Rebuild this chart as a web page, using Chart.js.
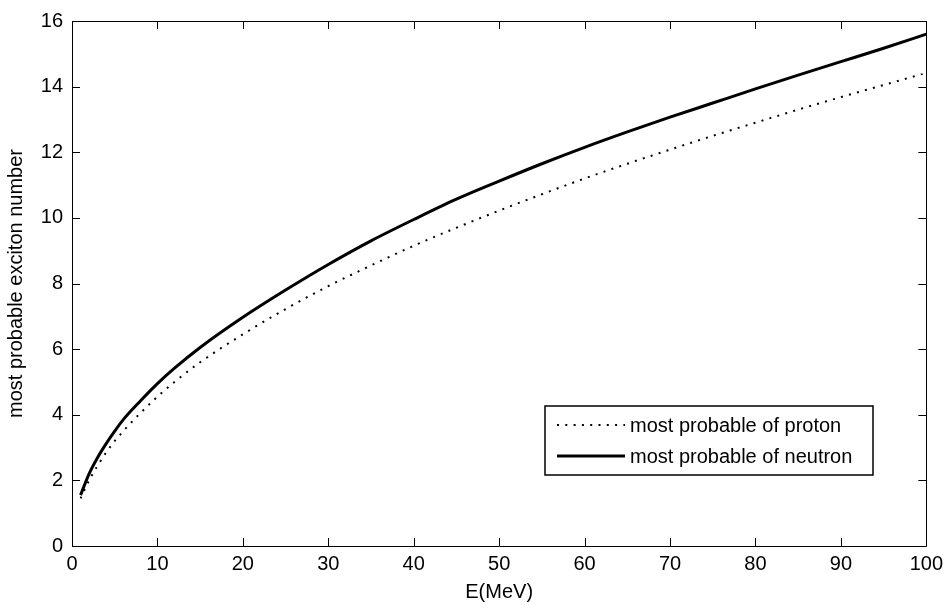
<!DOCTYPE html>
<html><head><meta charset="utf-8">
<script src="https://cdn.jsdelivr.net/npm/chart.js@4.4.0/dist/chart.umd.min.js"></script>
<style>html,body{margin:0;padding:0;background:#fff;}canvas{display:block;}</style>
</head><body>
<canvas id="c" width="949" height="605"></canvas>
<script>
// ---- data ----
const energies = [1,2,3,4,5,6,8,10,12,15,20,25,30,35,40,45,50,55,60,65,70,75,80,85,90,95,100];
const protonValues = [1.45,2.0,2.45,2.85,3.2,3.5,4.05,4.55,5.0,5.6,6.45,7.22,7.92,8.55,9.15,9.7,10.22,10.72,11.2,11.65,12.08,12.5,12.9,13.3,13.68,14.05,14.42];
const neutronValues = [1.55,2.2,2.7,3.12,3.5,3.85,4.42,4.95,5.42,6.05,6.97,7.8,8.58,9.3,9.95,10.57,11.12,11.65,12.15,12.62,13.07,13.5,13.93,14.35,14.76,15.17,15.6];
const xTickValues = [0,10,20,30,40,50,60,70,80,90,100];
const yTickValues = [0,2,4,6,8,10,12,14,16];
const seriesLabels = ['most probable of proton','most probable of neutron'];
const xTitle = 'E(MeV)';
const yTitle = 'most probable exciton number';

const FONT = "'Liberation Sans', Arial, sans-serif";

const framePlugin = {
  id: 'frame',
  afterDatasetsDraw(chart) {
    const ctx = chart.ctx, a = chart.chartArea;
    const xs = chart.scales.x, ys = chart.scales.y;
    const tl = 8;
    ctx.save();
    ctx.strokeStyle = '#000';
    ctx.lineWidth = 1;
    ctx.beginPath();
    ctx.rect(Math.round(a.left)+0.5, Math.round(a.top)+0.5, Math.round(a.right-a.left), Math.round(a.bottom-a.top));
    ctx.stroke();
    ctx.beginPath();
    xs.ticks.forEach(t => {
      const px = Math.round(xs.getPixelForValue(t.value)) + 0.5;
      ctx.moveTo(px, a.bottom); ctx.lineTo(px, a.bottom - tl);
      ctx.moveTo(px, a.top); ctx.lineTo(px, a.top + tl);
    });
    ys.ticks.forEach(t => {
      const py = Math.round(ys.getPixelForValue(t.value)) + 0.5;
      ctx.moveTo(a.left, py); ctx.lineTo(a.left + tl, py);
      ctx.moveTo(a.right, py); ctx.lineTo(a.right - tl, py);
    });
    ctx.stroke();

    // legend box drawn from dataset styles
    const bx = 545, by = 406, bw = 328, bh = 69;
    ctx.fillStyle = '#fff';
    ctx.fillRect(bx, by, bw, bh);
    ctx.lineWidth = 1.5;
    ctx.strokeRect(bx, by, bw, bh);
    ctx.font = '20px ' + FONT;
    ctx.textBaseline = 'middle';
    ctx.fillStyle = '#000';
    const rows = [425, 456];
    chart.data.datasets.forEach((ds, i) => {
      const y = rows[i];
      ctx.save();
      ctx.lineWidth = ds.borderWidth;
      ctx.setLineDash(ds.borderDash || []);
      ctx.beginPath();
      ctx.moveTo(557, y); ctx.lineTo(625, y);
      ctx.stroke();
      ctx.restore();
      ctx.fillText(ds.label, 630, y + 1);
    });
    ctx.restore();
  }
};

new Chart(document.getElementById('c'), {
  type: 'line',
  data: {
    datasets: [
      { label: seriesLabels[0], data: energies.map((e,i)=>({x:e,y:protonValues[i]})),
        borderColor: '#000', borderWidth: 2, borderDash: [2,6.3], pointRadius: 0, fill: false, cubicInterpolationMode: 'monotone' },
      { label: seriesLabels[1], data: energies.map((e,i)=>({x:e,y:neutronValues[i]})),
        borderColor: '#000', borderWidth: 3, pointRadius: 0, fill: false, cubicInterpolationMode: 'monotone' }
    ]
  },
  options: {
    responsive: false,
    animation: false,
    layout: { padding: { top: 18, right: 20, left: 0, bottom: 0 } },
    plugins: { legend: { display: false }, tooltip: { enabled: false } },
    scales: {
      x: {
        type: 'linear', min: 0, max: 100,
        afterBuildTicks: s => { s.ticks = xTickValues.map(v => ({ value: v })); },
        afterFit: s => { s.height = 59; },
        grid: { display: false, drawTicks: false },
        border: { display: false },
        ticks: { color: '#000', font: { family: FONT, size: 20 }, padding: 6, maxRotation: 0 },
        title: { display: true, text: xTitle, color: '#000', font: { family: FONT, size: 20 }, padding: { top: 0, bottom: 1 } }
      },
      y: {
        type: 'linear', min: 0, max: 16,
        afterBuildTicks: s => { s.ticks = yTickValues.map(v => ({ value: v })); },
        afterFit: s => { s.width = 72; },
        grid: { display: false, drawTicks: false },
        border: { display: false },
        ticks: { color: '#000', font: { family: FONT, size: 20 }, padding: 9 },
        title: { display: true, text: yTitle, color: '#000', font: { family: FONT, size: 20 }, padding: { top: 4, bottom: 0 } }
      }
    }
  },
  plugins: [framePlugin]
});
</script>
</body></html>
